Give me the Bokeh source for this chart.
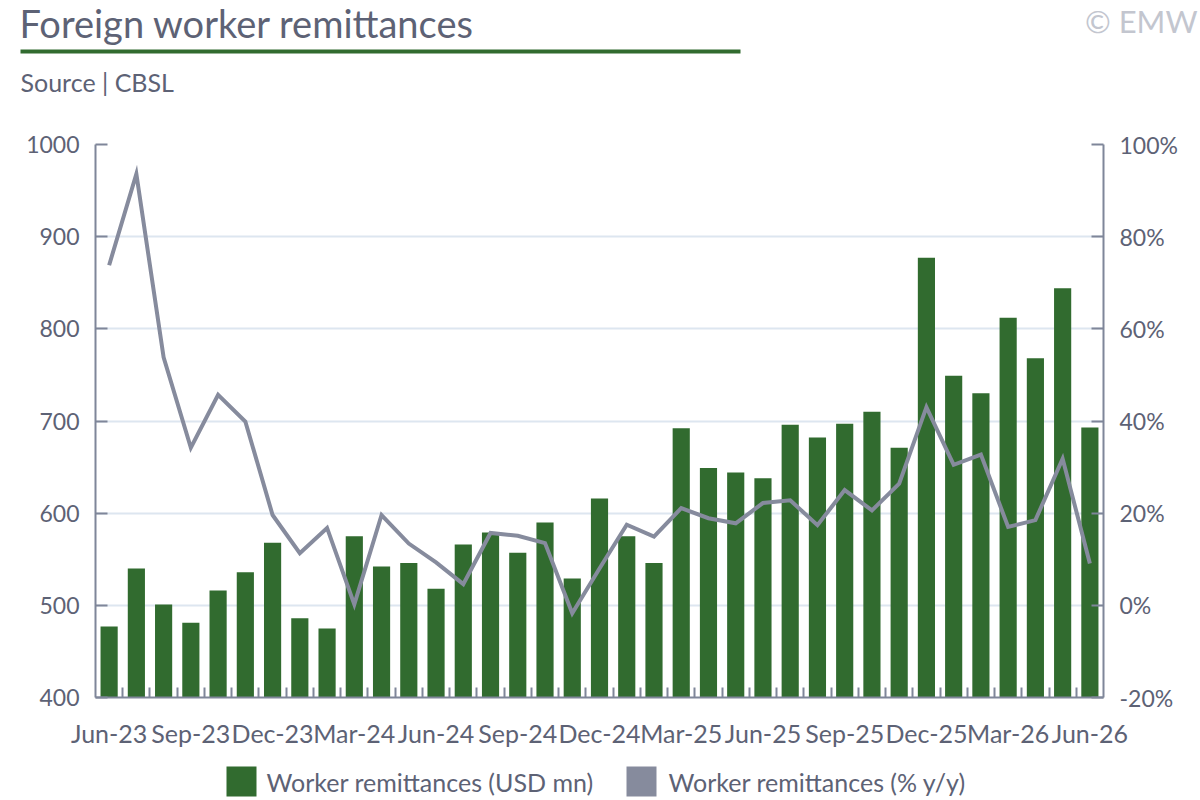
from bokeh.plotting import figure
from bokeh.models import (Range1d, LinearAxis, FixedTicker, PrintfTickFormatter,
                          ColumnDataSource)
from bokeh.layouts import column, row
from bokeh.embed import file_html
from bokeh.resources import INLINE
from bokeh.core.properties import value

months = ["Jun-23", "Jul-23", "Aug-23", "Sep-23", "Oct-23", "Nov-23", "Dec-23",
          "Jan-24", "Feb-24", "Mar-24", "Apr-24", "May-24", "Jun-24", "Jul-24",
          "Aug-24", "Sep-24", "Oct-24", "Nov-24", "Dec-24", "Jan-25", "Feb-25",
          "Mar-25", "Apr-25", "May-25", "Jun-25", "Jul-25", "Aug-25", "Sep-25",
          "Oct-25", "Nov-25", "Dec-25", "Jan-26", "Feb-26", "Mar-26", "Apr-26",
          "May-26", "Jun-26"]
remit_usd_mn = [477, 540, 501, 481, 516, 536, 568,
                486, 475, 575, 542, 546, 518, 566, 579, 557, 590, 529, 616,
                575, 546, 692, 649, 644, 638, 696, 682, 697, 710, 671, 877,
                749, 730, 812, 768, 844, 693]
remit_yoy = [73.8, 93.6, 53.8, 34.2, 45.7, 39.9, 19.6,
             11.3, 16.8, 0.2, 19.6, 13.4, 9.3, 4.6, 15.7, 15.1, 13.5, -1.7, 8.0,
             17.5, 14.9, 21.1, 18.9, 17.8, 22.2, 22.8, 17.4, 25.0, 20.6, 26.4, 43.0,
             30.5, 32.7, 17.0, 18.5, 31.8, 9.1]
left_ticks = [400, 500, 600, 700, 800, 900, 1000]
right_ticks = [-20, 0, 20, 40, 60, 80, 100]
title_text = "Foreign worker remittances"
source_text = "Source | CBSL"
brand_text = "\u00a9 EMW"
series_names = ["Worker remittances (USD mn)", "Worker remittances (% y/y)"]

FONT = "Lato"
GREEN = "#316b2f"
GREYLINE = "#868b9d"
TXT = "#5d6275"
AXIS = "#7f8699"
GRID = "#dde6f0"
W = 1200

def blank(h, y0, y1):
    f = figure(width=W, height=h, x_range=Range1d(0, W), y_range=Range1d(y1, y0),
               output_backend="svg", toolbar_location=None, min_border=0)
    f.axis.visible = False
    f.grid.visible = False
    f.outline_line_color = None
    return f

# ---------- header (page coordinates 0..100) ----------
hdr = blank(100, 0, 100)
hdr.text(x=[19], y=[22], text=[title_text], text_font=value(FONT), text_font_size="38px",
         text_color=TXT, text_baseline="middle", text_align="left")
hdr.text(x=[20], y=[81], text=[source_text], text_font=value(FONT), text_font_size="25px",
         text_color=TXT, text_baseline="middle", text_align="left")
hdr.text(x=[1197], y=[20], text=[brand_text], text_font=value(FONT), text_font_size="31px",
         text_color="#c3c6cf", text_baseline="middle", text_align="right")
hdr.segment(x0=[20], y0=[51], x1=[740], y1=[51], line_color=GREEN, line_width=4)

# ---------- main ----------
xs = list(range(len(months)))
src = ColumnDataSource(dict(x=xs, usd=remit_usd_mn, yoy=remit_yoy))

p = figure(width=W, height=650, x_range=Range1d(-0.5, len(months) - 0.5),
           y_range=Range1d(left_ticks[0], left_ticks[-1]),
           output_backend="svg", toolbar_location=None,
           min_border_left=95, min_border_right=97, min_border_top=44, min_border_bottom=53)
p.extra_y_ranges = {"pct": Range1d(right_ticks[0], right_ticks[-1])}
p.outline_line_color = None
p.xgrid.visible = False
p.ygrid.grid_line_color = GRID
p.ygrid.grid_line_width = 2
p.ygrid.ticker = FixedTicker(ticks=left_ticks)

p.vbar(x="x", top="usd", bottom=left_ticks[0], width=0.63, source=src,
       fill_color=GREEN, line_color=None)
p.line(x="x", y="yoy", source=src, y_range_name="pct", line_color=GREYLINE,
       line_width=4, line_join="miter")

ya = p.yaxis[0]
ya.ticker = FixedTicker(ticks=left_ticks)
ra = LinearAxis(y_range_name="pct", ticker=FixedTicker(ticks=right_ticks),
                formatter=PrintfTickFormatter(format="%d%%"))
p.add_layout(ra, "right")

xa = p.xaxis[0]
label_pos = xs[::3]
xa.ticker = FixedTicker(ticks=label_pos, minor_ticks=[i + 0.5 for i in xs[:-1]])
xa.major_label_overrides = {i: months[i] for i in label_pos}

for ax in (ya, ra, xa):
    ax.axis_line_color = AXIS
    ax.axis_line_width = 2
    ax.major_tick_line_color = AXIS
    ax.major_tick_line_width = 2
    ax.minor_tick_line_color = None
    ax.major_label_text_font = FONT
    ax.major_label_text_font_size = "23px"
    ax.major_label_text_color = TXT
for ax in (ya, ra):
    ax.major_tick_in = 12
    ax.major_tick_out = 0
    ax.major_label_standoff = 16
xa.major_label_text_font_size = "25px"
xa.major_tick_in = 0
xa.major_tick_out = 0
xa.minor_tick_line_color = AXIS
xa.minor_tick_line_width = 2
xa.minor_tick_in = 10
xa.minor_tick_out = 0
xa.major_label_standoff = 20

# ---------- footer legend (page coordinates 750..800) ----------
ftr = blank(50, 750, 800)
ftr.rect(x=[241, 641], y=[781, 781], width=30, height=30, fill_color=[GREEN, GREYLINE],
         line_color=None)
ftr.text(x=[266, 668], y=[781, 781], text=series_names, text_font=value(FONT),
         text_font_size="25px", text_color=TXT, text_baseline="middle", text_align="left")

layout = column(row(hdr), p, row(ftr), spacing=0)
open("out.html", "w").write(file_html(layout, INLINE))
